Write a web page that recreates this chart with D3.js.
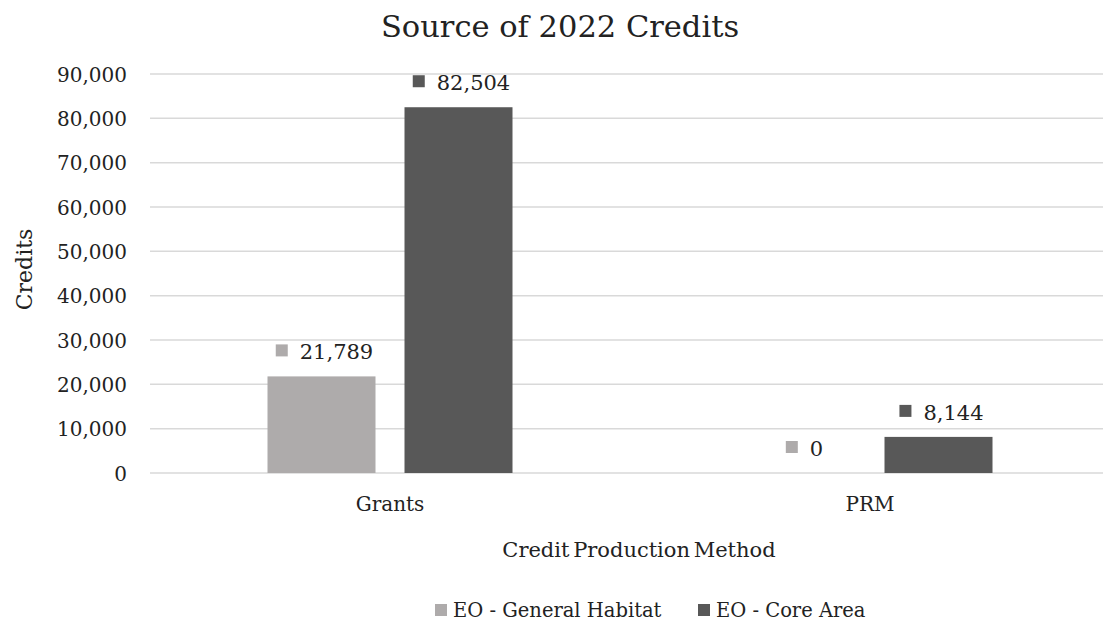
<!DOCTYPE html>
<html>
<head>
<meta charset="utf-8">
<script src="https://cdn.jsdelivr.net/npm/d3@7/dist/d3.min.js"></script>
<style>
  html, body { margin: 0; padding: 0; background: #fff; }
  svg { display: block; }
  text { font-family: "DejaVu Serif", "Liberation Serif", serif; fill: #222222; }
</style>
</head>
<body>
<svg id="chart" width="1103" height="623"></svg>
<script>
// Credits produced in 2022, by production method and EO type
const categories = ["Grants", "PRM"];
const seriesNames = ["EO - General Habitat", "EO - Core Area"];
const generalHabitat = [21789, 0];
const coreArea = [82504, 8144];
const yTicks = [0, 10000, 20000, 30000, 40000, 50000, 60000, 70000, 80000, 90000];
const seriesColors = ["#aeabab", "#585858"];

const seriesValues = [generalHabitat, coreArea];

const width = 1103, height = 623;
const plot = { left: 150, right: 1110, top: 74, bottom: 473 };

const svg = d3.select("#chart");
const fmt = d3.format(",");

const x = d3.scaleBand()
  .domain(categories)
  .range([plot.left, plot.right])
  .paddingInner(0)
  .paddingOuter(0);

const barW = 108, barGap = 29;
const xSeries = d3.scaleBand()
  .domain(seriesNames)
  .range([0, x.bandwidth()])
  .paddingInner(barGap / (barW + barGap))
  .paddingOuter(((x.bandwidth() - 2 * barW - barGap) / 2) / (barW + barGap));

const y = d3.scaleLinear()
  .domain([0, 90000])
  .range([plot.bottom, plot.top]);

// Horizontal gridlines
svg.append("g")
  .selectAll("line")
  .data(yTicks)
  .join("line")
  .attr("x1", plot.left)
  .attr("x2", width)
  .attr("y1", d => y(d))
  .attr("y2", d => y(d))
  .attr("stroke", "#d9d9d9")
  .attr("stroke-width", 1.5);

// Y axis tick labels
const yAxis = d3.axisLeft(y).tickValues(yTicks).tickFormat(fmt).tickSize(0).tickPadding(0);
const yg = svg.append("g")
  .attr("transform", `translate(${plot.left - 23},0)`)
  .call(yAxis);
yg.select(".domain").remove();
yg.selectAll("text")
  .attr("font-family", "DejaVu Serif")
  .attr("font-size", 20)
  .attr("fill", "#222222")
  .attr("dy", "0.36em");

// X axis category labels
const xAxis = d3.axisBottom(x).tickSize(0).tickPadding(0);
const xg = svg.append("g")
  .attr("transform", `translate(0,${plot.bottom})`)
  .call(xAxis);
xg.select(".domain").remove();
xg.selectAll("text")
  .attr("font-family", "DejaVu Serif")
  .attr("font-size", 20)
  .attr("fill", "#222222")
  .attr("y", 38)
  .attr("dy", null);

// Bars
const rows = [];
categories.forEach((c, i) => {
  seriesNames.forEach((s, j) => {
    rows.push({ cat: c, series: s, value: seriesValues[j][i], color: seriesColors[j] });
  });
});

const groups = svg.append("g").selectAll("g")
  .data(rows)
  .join("g");

groups.append("rect")
  .attr("x", d => x(d.cat) + xSeries(d.series))
  .attr("width", xSeries.bandwidth())
  .attr("y", d => y(d.value))
  .attr("height", d => y(0) - y(d.value))
  .attr("fill", d => d.color);

// Data labels with legend key
groups.each(function(d) {
  const g = d3.select(this);
  const cx = x(d.cat) + xSeries(d.series) + xSeries.bandwidth() / 2;
  const baseY = y(d.value) - 17;
  const t = g.append("text")
    .attr("y", baseY)
    .attr("font-size", 21)
    .text(fmt(d.value));
  const tw = t.node().getComputedTextLength();
  const keyW = 12, keyGap = 12;
  const total = keyW + keyGap + tw;
  const left = cx - total / 2 + 3;
  g.append("rect")
    .attr("x", left)
    .attr("y", baseY - 15)
    .attr("width", keyW)
    .attr("height", keyW)
    .attr("fill", d.color);
  t.attr("x", left + keyW + keyGap);
});

// Title
svg.append("text")
  .attr("x", 560)
  .attr("y", 37)
  .attr("text-anchor", "middle")
  .attr("font-size", 30.5)
  .text("Source of 2022 Credits");

// Axis titles
svg.append("text")
  .attr("transform", `translate(32,${(plot.top + plot.bottom) / 2 - 4}) rotate(-90)`)
  .attr("text-anchor", "middle")
  .attr("font-size", 22)
  .text("Credits");

svg.append("text")
  .attr("x", 639)
  .attr("y", 557)
  .attr("text-anchor", "middle")
  .attr("font-size", 21)
  .attr("word-spacing", -3)
  .text("Credit Production Method");

// Legend
const legendItems = seriesNames.map((s, i) => ({ name: s, color: seriesColors[i] }));
const legend = svg.append("g");
const lx = [435, 698];
legendItems.forEach((d, i) => {
  legend.append("rect")
    .attr("x", lx[i])
    .attr("y", 604)
    .attr("width", 12)
    .attr("height", 12)
    .attr("fill", d.color);
  legend.append("text")
    .attr("x", lx[i] + 18)
    .attr("y", 617)
    .attr("font-size", 19.5)
    .text(d.name);
});
</script>
</body>
</html>
